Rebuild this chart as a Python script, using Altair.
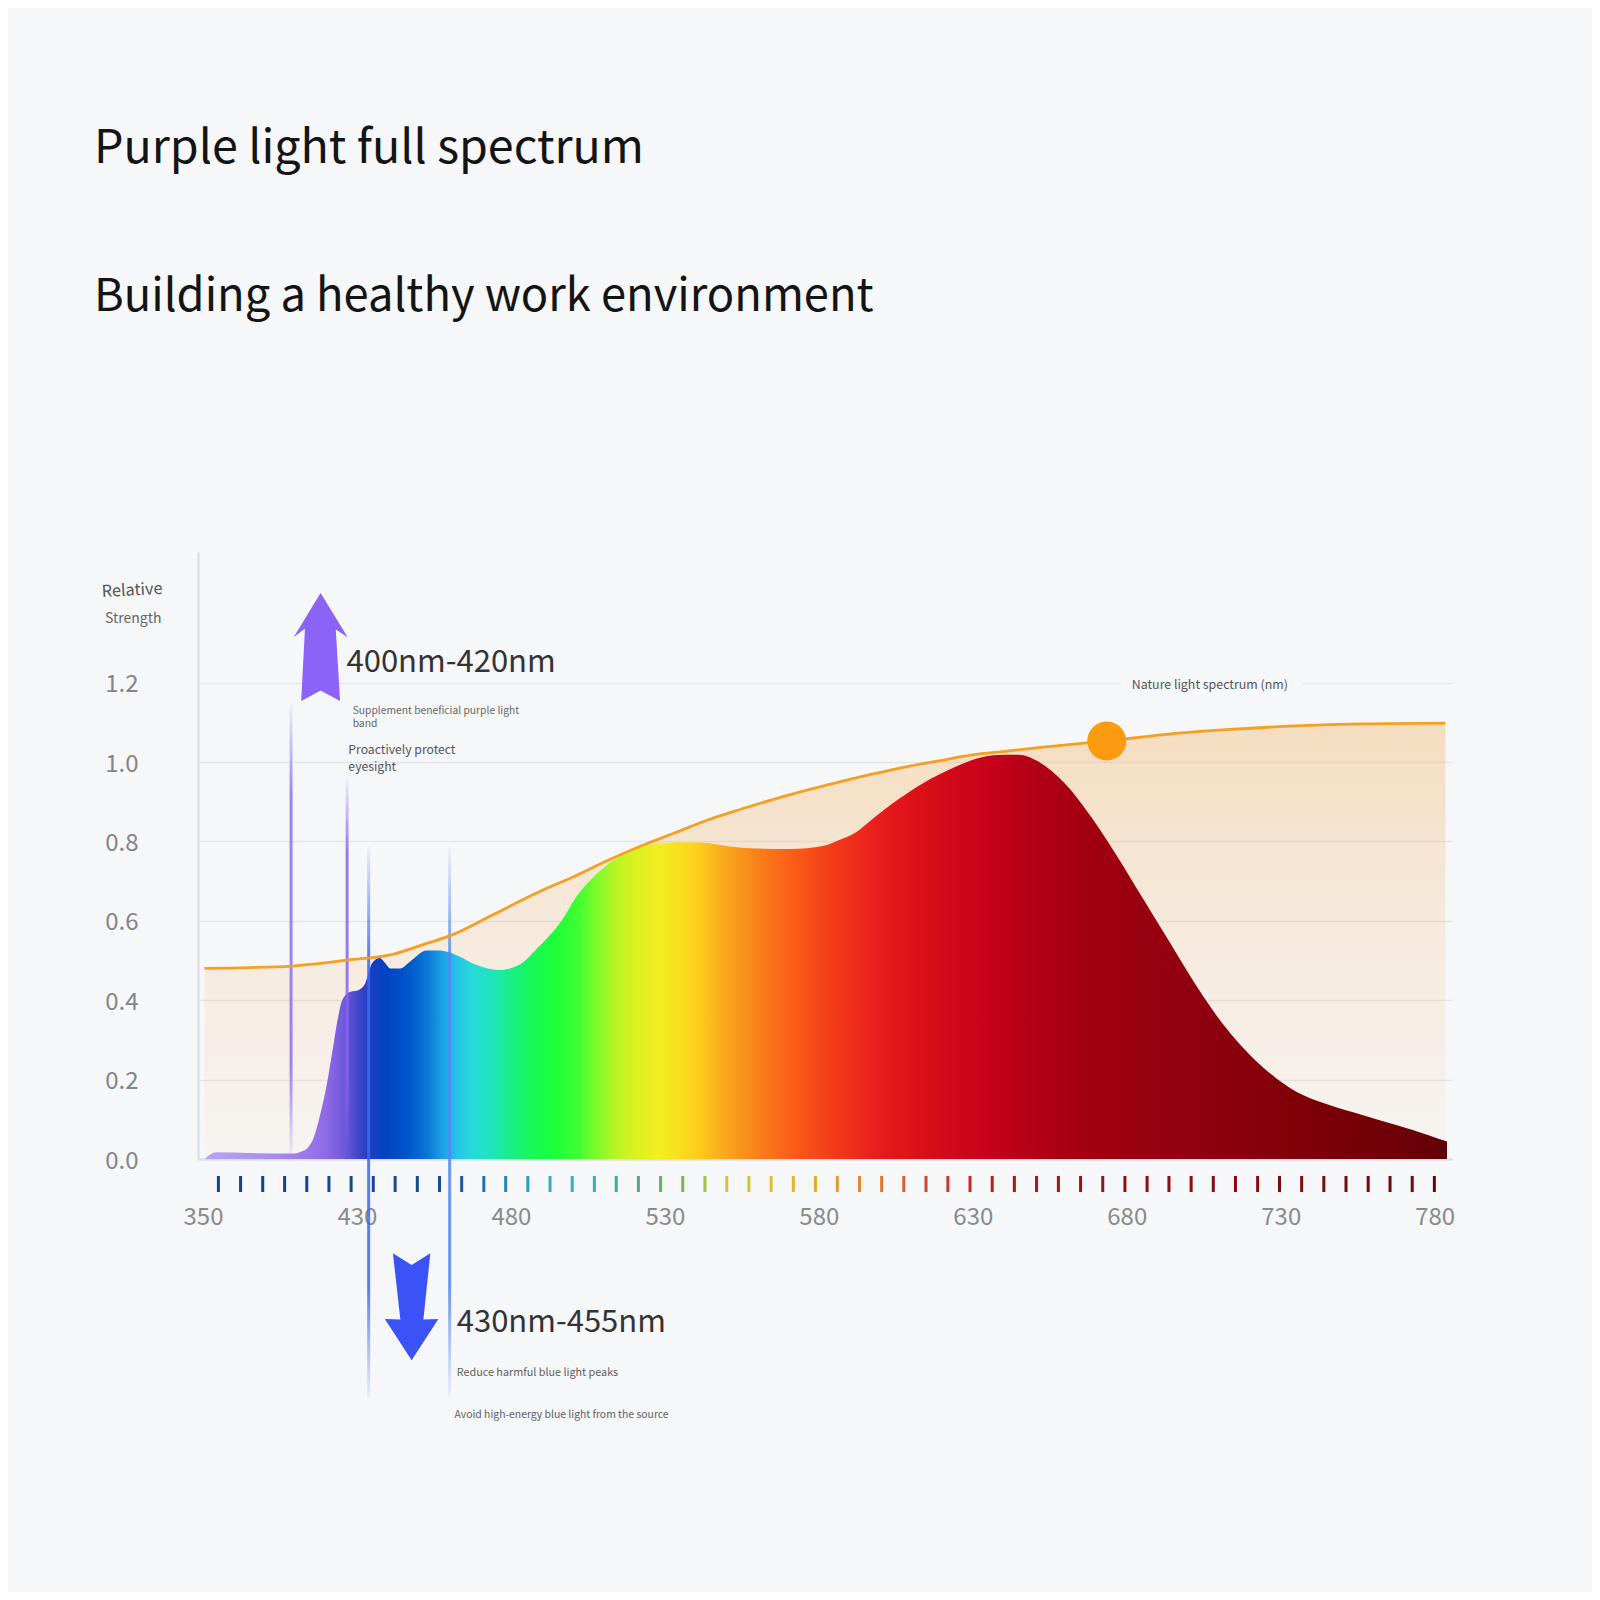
import altair as alt
import pandas as pd

BG = "#f6f7f9"
FONT = "Noto Sans CJK SC"

TITLE_1 = "Purple light full spectrum"
TITLE_2 = "Building a healthy work environment"
Y_TITLE_1 = "Relative"
Y_TITLE_2 = "Strength"

# LED spectrum (x position on the wavelength scale, relative strength)
SPEC_NM = [380.5, 384.4, 395.0, 409.6, 412.3, 414.0, 416.0, 418.0, 420.0, 422.0, 423.7, 425.2,
           427.9, 430.6, 432.7, 434.9, 437.3, 439.2, 440.8, 444.0, 447.2, 452.6, 456.9, 462.2,
           468.7, 476.2, 482.7, 489.1, 496.6, 500.9, 507.4, 514.9, 522.4, 533.1, 541.7, 550.3,
           560.0, 570.7, 581.5, 586.8, 592.2, 597.6, 604.0, 613.7, 624.4, 633.0, 640.5, 644.8,
           651.3, 659.9, 668.4, 677.0, 685.6, 694.2, 702.8, 711.4, 720.0, 728.6, 737.2, 745.8,
           756.5, 767.2, 778.0, 784.0]
SPEC_VAL = [0.0, 0.017, 0.015, 0.014, 0.02, 0.028, 0.055, 0.11, 0.18, 0.27, 0.35, 0.40,
            0.421, 0.426, 0.443, 0.493, 0.506, 0.493, 0.48, 0.48, 0.497, 0.525, 0.525, 0.514,
            0.489, 0.476, 0.489, 0.535, 0.602, 0.657, 0.715, 0.761, 0.787, 0.797, 0.797, 0.788,
            0.782, 0.781, 0.789, 0.804, 0.824, 0.858, 0.896, 0.946, 0.988, 1.012, 1.018, 1.018,
            1.001, 0.946, 0.862, 0.761, 0.652, 0.543, 0.434, 0.338, 0.262, 0.203, 0.161, 0.136,
            0.111, 0.086, 0.06, 0.044]

# Nature light spectrum curve
NATURE_NM = [380.5, 395.0, 408.6, 426.8, 441.9, 452.6, 460.1, 474.1, 484.8, 490.2, 500.9, 511.7,
             522.4, 533.1, 543.9, 554.6, 565.3, 576.1, 586.8, 597.6, 608.3, 619.0, 629.8, 640.5,
             651.3, 673.5, 692.1, 713.5, 735.0, 756.5, 783.5]
NATURE_VAL = [0.48, 0.482, 0.486, 0.501, 0.516, 0.543, 0.562, 0.615, 0.657, 0.677, 0.713, 0.753,
              0.789, 0.821, 0.854, 0.881, 0.906, 0.929, 0.95, 0.97, 0.988, 1.003, 1.018, 1.027,
              1.036, 1.053, 1.069, 1.082, 1.091, 1.096, 1.098]
DOT_NM = [673.5]
DOT_VAL = [1.053]

# spectrum fill colour stops
SPEC_STOP_NM = [380.5, 400, 412, 420, 426, 430, 434, 440, 447, 453, 458, 462, 467, 474, 481, 488,
                494, 502, 508, 514, 520, 528, 536, 542, 549, 556, 564, 572, 581, 590, 600, 612,
                624, 638, 650, 670, 703, 735, 767, 784]
SPEC_STOP_COLOR = ["#b8a3f2", "#ab8ff0", "#9e7cec", "#8e6ae6", "#6e58dc", "#4548cc", "#1c3ec4",
                   "#0044c4", "#0058cc", "#0a78d8", "#1ca4e6", "#24c0ea", "#28d8dc", "#1ee6b8",
                   "#18f080", "#18fa50", "#1cff3a", "#40ff30", "#80fa2a", "#b8f424", "#d8f220",
                   "#f2ee20", "#f8dc1c", "#fcc81a", "#faaa1c", "#f8901a", "#fa7418", "#fc5c18",
                   "#f4441a", "#f0301c", "#e81c1c", "#dc1018", "#d0081a", "#c4001a", "#b20016",
                   "#a00010", "#900010", "#800008", "#700008", "#600008"]

# coloured wavelength ticks under the axis
TICK_NM = [385.0, 392.2, 399.4, 406.5, 413.7, 420.9, 428.1, 435.3, 442.4, 449.6, 456.8, 464.0,
           471.2, 478.3, 485.5, 492.7, 499.9, 507.1, 514.2, 521.4, 528.6, 535.8, 543.0, 550.1,
           557.3, 564.5, 571.7, 578.9, 586.0, 593.2, 600.4, 607.6, 614.8, 621.9, 629.1, 636.3,
           643.5, 650.7, 657.8, 665.0, 672.2, 679.4, 686.6, 693.7, 700.9, 708.1, 715.3, 722.5,
           729.6, 736.8, 744.0, 751.2, 758.4, 765.5, 772.7, 779.9]
TICK_COLOR_NM = [385, 460, 475, 490, 505, 520, 535, 550, 565, 580, 595, 610, 625, 640, 680, 730, 780]
TICK_COLOR = ["#1a3e8c", "#1a4a98", "#2a7cb8", "#35a8cc", "#3cb4b4", "#4fa87a", "#7cb44a",
              "#c4cc34", "#e0c02a", "#e6a82a", "#e48430", "#d85030", "#c83028", "#b01818",
              "#921010", "#7e0c0c", "#6a0808"]

X_LABEL_POS = [380, 430, 480, 530, 580, 630, 680, 730, 780]
X_LABELS = ["350", "430", "480", "530", "580", "630", "680", "730", "780"]
Y_TICKS = [0.0, 0.2, 0.4, 0.6, 0.8, 1.0, 1.2]

# marker lines for the two bands
BAND_NM = [408.6, 426.8, 433.8, 460.1]
BAND_TOP = [1.146, 0.96, 0.786, 0.786]
BAND_BOTTOM = [0.0, 0.03, -0.602, -0.602]
BAND_RGB = ["140,112,246", "136,100,240", "60,104,240", "84,134,242"]

# arrows
UP_NM, UP_VAL, UP_COLOR = 418.2, 1.29, "#8b63f7"
DOWN_NM, DOWN_VAL, DOWN_COLOR = 447.75, -0.372, "#3b53f6"
UP_PATH = "M0,-1 L0.5,-0.18 L0.28,-0.32 L0.36,1 L0,0.81 L-0.36,1 L-0.29,-0.34 L-0.5,-0.18 Z"
DOWN_PATH = "M-0.35,-1 L0,-0.78 L0.35,-1 L0.22,0.24 L0.5,0.23 L0,1 L-0.5,0.23 L-0.21,0.24 Z"

# text annotations in data space
BIG_TEXT = ["400nm-420nm", "430nm-455nm"]
BIG_NM = [426.6, 462.4]
BIG_VAL = [1.2275, -0.435]

SMALL_TEXT = ["Supplement beneficial purple light", "band", "Proactively protect", "eyesight",
              "Reduce harmful blue light peaks", "Avoid high-energy blue light from the source",
              "Nature light spectrum (nm)"]
SMALL_NM = [428.6, 428.6, 427.2, 427.2, 462.4, 461.7, 681.6]
SMALL_VAL = [1.121, 1.088, 1.021, 0.977, -0.547, -0.652, 1.185]
SMALL_SIZE = [10.3, 10.3, 12.2, 12.2, 10.8, 10.4, 12.4]
SMALL_COLOR = ["#666666", "#666666", "#555555", "#555555", "#606060", "#606060", "#555555"]
LABEL_BOX_NM = [678.0, 737.0]
LABEL_BOX_VAL = [1.19, 1.213]

W, H = 1254, 607

XS = alt.Scale(domain=[380, 784], nice=False, zero=False)
YS = alt.Scale(domain=[0, 1.529], nice=False, zero=False)

label_expr = " : ".join(f"datum.value == {p} ? '{l}'" for p, l in zip(X_LABEL_POS, X_LABELS)) + " : ''"

XA = alt.Axis(values=X_LABEL_POS, labelExpr=label_expr, title=None, grid=False, ticks=False,
              tickSize=0, labelFontSize=24, labelColor="#8a8a8a", labelFont=FONT,
              labelPadding=58, labelBaseline="middle", domainColor="#dcdde1", domainWidth=2,
              labelFlush=False, labelOverlap=False)
YA = alt.Axis(values=Y_TICKS, format=".1f", title=None, grid=True, gridColor="#e4e6ea",
              gridWidth=1.5, ticks=False, tickSize=0, labelFontSize=24, labelColor="#858585",
              labelFont=FONT, labelPadding=60, domainColor="#d9dce1", domainWidth=2,
              labelBaseline="middle", labelOverlap=False, labelFlush=False, labelOffset=2)


def xq(field):
    return alt.X(f"{field}:Q", scale=XS, axis=XA, title=None)


def yq(field):
    return alt.Y(f"{field}:Q", scale=YS, axis=YA, title=None)


spec_df = pd.DataFrame({"nm": SPEC_NM, "val": SPEC_VAL})
nat_df = pd.DataFrame({"nm": NATURE_NM, "val": NATURE_VAL})

x0, x1 = SPEC_NM[0], SPEC_NM[-1]
spec_grad = alt.LinearGradient(
    gradient="linear",
    stops=[alt.GradientStop(color=c, offset=max(0.0, min(1.0, (n - x0) / (x1 - x0))))
           for n, c in zip(SPEC_STOP_NM, SPEC_STOP_COLOR)],
    x1=0, x2=1, y1=0, y2=0)

nat_grad = alt.LinearGradient(
    gradient="linear",
    stops=[alt.GradientStop(color="rgba(245,165,70,0.32)", offset=0),
           alt.GradientStop(color="rgba(245,170,80,0.16)", offset=0.5),
           alt.GradientStop(color="rgba(245,175,90,0.05)", offset=1)],
    x1=0, x2=0, y1=0, y2=1)

layers = []

# mask behind the curve label (interrupts the gridline)
layers.append(
    alt.Chart(pd.DataFrame({"a": [LABEL_BOX_NM[0]], "b": [LABEL_BOX_NM[1]],
                            "c": [LABEL_BOX_VAL[0]], "d": [LABEL_BOX_VAL[1]]}))
    .mark_rect(color=BG)
    .encode(x=xq("a"), x2="b:Q", y=yq("c"), y2="d:Q")
)

layers.append(
    alt.Chart(nat_df).mark_area(interpolate="monotone", color=nat_grad)
    .encode(x=xq("nm"), y=yq("val"))
)

layers.append(
    alt.Chart(spec_df).mark_area(interpolate="monotone", color=spec_grad)
    .encode(x=xq("nm"), y=yq("val"))
)

for nm, top, bot, rgb in zip(BAND_NM, BAND_TOP, BAND_BOTTOM, BAND_RGB):
    g = alt.LinearGradient(
        gradient="linear",
        stops=[alt.GradientStop(color=f"rgba({rgb},0.05)", offset=0),
               alt.GradientStop(color=f"rgba({rgb},0.85)", offset=0.2),
               alt.GradientStop(color=f"rgba({rgb},0.85)", offset=0.8),
               alt.GradientStop(color=f"rgba({rgb},0.05)", offset=1)],
        x1=0, x2=0, y1=0, y2=1)
    layers.append(
        alt.Chart(pd.DataFrame({"nm": [nm], "top": [top], "bot": [bot]}))
        .mark_bar(size=3, color=g)
        .encode(x=xq("nm"), y=yq("top"), y2="bot:Q")
    )

layers.append(
    alt.Chart(nat_df).mark_line(interpolate="monotone", color="#f5a023", strokeWidth=2.8)
    .encode(x=xq("nm"), y=yq("val"))
)

layers.append(
    alt.Chart(pd.DataFrame({"nm": DOT_NM, "val": DOT_VAL}))
    .mark_circle(color="#fa9b10", opacity=1, size=1520)
    .encode(x=xq("nm"), y=yq("val"))
)

layers.append(
    alt.Chart(pd.DataFrame({"nm": TICK_NM}))
    .mark_rule(strokeWidth=3)
    .encode(x=xq("nm"), y=alt.value(H + 17), y2=alt.value(H + 33),
            color=alt.Color("nm:Q", scale=alt.Scale(domain=TICK_COLOR_NM, range=TICK_COLOR),
                            legend=None))
)

layers.append(
    alt.Chart(pd.DataFrame({"nm": [UP_NM], "val": [UP_VAL]}))
    .mark_point(shape=UP_PATH, filled=True, size=11664, color=UP_COLOR, opacity=1, strokeWidth=0)
    .encode(x=xq("nm"), y=yq("val"))
)
layers.append(
    alt.Chart(pd.DataFrame({"nm": [DOWN_NM], "val": [DOWN_VAL]}))
    .mark_point(shape=DOWN_PATH, filled=True, size=11450, color=DOWN_COLOR, opacity=1, strokeWidth=0)
    .encode(x=xq("nm"), y=yq("val"))
)

layers.append(
    alt.Chart(pd.DataFrame({"nm": BIG_NM, "val": BIG_VAL, "t": BIG_TEXT}))
    .mark_text(align="left", baseline="alphabetic", font=FONT, fontSize=31, color="#333333")
    .encode(x=xq("nm"), y=yq("val"), text="t:N")
)

layers.append(
    alt.Chart(pd.DataFrame({"nm": SMALL_NM, "val": SMALL_VAL, "t": SMALL_TEXT,
                            "s": SMALL_SIZE, "c": SMALL_COLOR}))
    .mark_text(align="left", baseline="alphabetic", font=FONT)
    .encode(x=xq("nm"), y=yq("val"), text="t:N",
            size=alt.Size("s:Q", scale=None), color=alt.Color("c:N", scale=None))
)


def px_text(text, x, y, size, color, angle=None):
    kw = dict(align="left", baseline="alphabetic", font=FONT, fontSize=size, color=color)
    if angle is not None:
        kw["angle"] = angle
    return (alt.Chart(pd.DataFrame({"t": [text]})).mark_text(**kw)
            .encode(text="t:N", x=alt.value(x), y=alt.value(y)))


layers.append(px_text(TITLE_1, -104, -389, 46.6, "#141414"))
layers.append(px_text(TITLE_2, -104, -241, 45.3, "#141414"))
layers.append(px_text(Y_TITLE_1, -96, 45, 16.3, "#555555", angle=357))
layers.append(px_text(Y_TITLE_2, -93, 71, 14, "#666666"))

chart = (
    alt.layer(*layers)
    .properties(width=W, height=H, background=BG,
                padding={"left": 190, "top": 544, "right": 140, "bottom": 433},
                autosize=alt.AutoSizeParams(type="none"))
    .configure_view(stroke=None)
)

chart.save("out.html", embed_options={"renderer": "svg", "actions": False})
